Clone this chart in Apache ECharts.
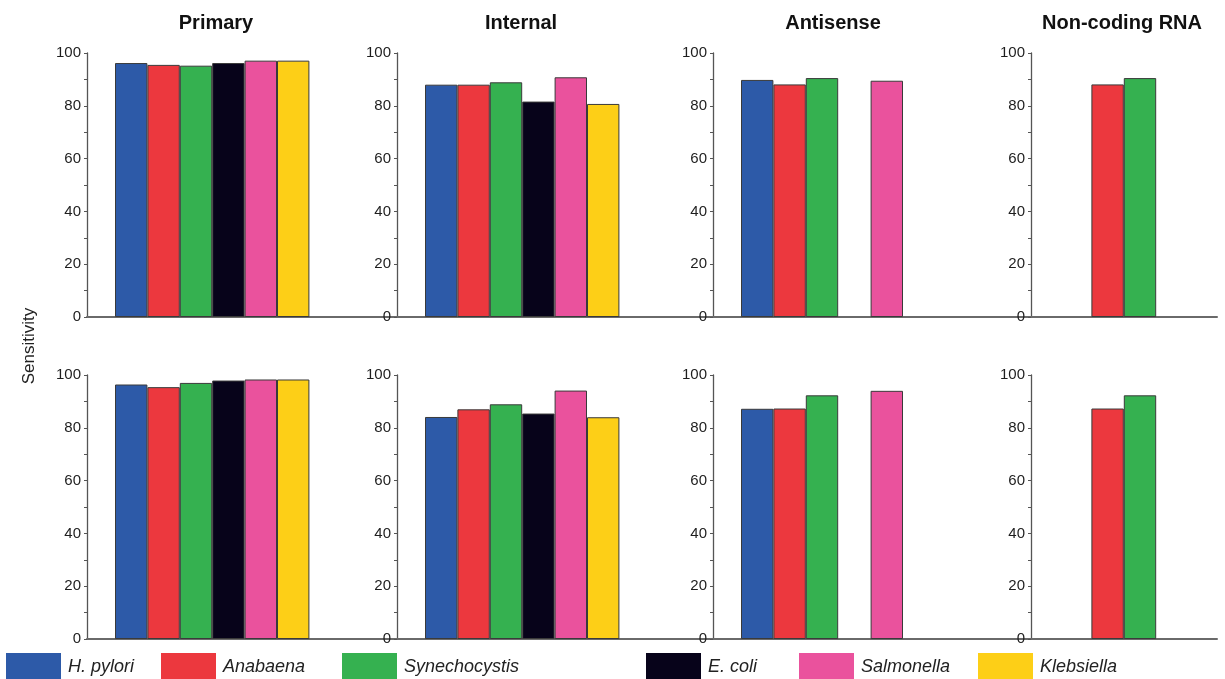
<!DOCTYPE html>
<html>
<head>
<meta charset="utf-8">
<title>Sensitivity by TSS class</title>
<script src="https://cdn.jsdelivr.net/npm/echarts@6/dist/echarts.min.js"></script>
<style>
  html, body { margin: 0; padding: 0; background: #fff; }
  #chart { width: 1225px; height: 679px; }
</style>
</head>
<body>
<div id="chart"></div>
<script>
// Organisms (legend order) and their bar colours
const species = ['H. pylori', 'Anabaena', 'Synechocystis', 'E. coli', 'Salmonella', 'Klebsiella'];
const speciesColors = ['#2d5aa8', '#ec383e', '#35b150', '#07031a', '#ea529d', '#fdcf17'];

// Panel headings (one per column)
const panelTitles = ['Primary', 'Internal', 'Antisense', 'Non-coding RNA'];

// Y axis tick values
const yTicks = [0, 20, 40, 60, 80, 100];

// Sensitivity (%) per organism; null = class not annotated for that organism
// Upper row
const primaryTop    = [96.2, 95.5, 95.2, 96.2, 97.1, 97.1];
const internalTop   = [88.0, 88.0, 88.9, 81.6, 90.8, 80.7];
const antisenseTop  = [89.8, 88.1, 90.5, null, 89.5, null];
const ncrnaTop      = [null, 88.1, 90.5, null, null, null];
// Lower row
const primaryBottom   = [96.4, 95.4, 97.0, 97.9, 98.3, 98.3];
const internalBottom  = [84.1, 87.0, 88.9, 85.4, 94.1, 84.0];
const antisenseBottom = [87.2, 87.3, 92.3, null, 94.0, null];
const ncrnaBottom     = [null, 87.3, 92.3, null, null, null];

const rows = [
  [primaryTop, internalTop, antisenseTop, ncrnaTop],
  [primaryBottom, internalBottom, antisenseBottom, ncrnaBottom]
];

// ---- layout ----
const FONT = '"Liberation Sans", Arial, Helvetica, sans-serif';
const axisLeft = [87, 397, 713, 1031];      // y-axis position of each column
const axisEnd  = [397, 713, 1031, 1217];    // baseline runs on to the next panel
const rowTop = [53, 375];
const plotH = 264;
const slot = 32.4;       // width of one bar
const leadGap = 28;      // space between y axis and first bar

const grids = [], xAxes = [], yAxes = [], series = [];
let idx = 0;
rows.forEach((row, r) => {
  row.forEach((vals, c) => {
    const w = axisEnd[c] - axisLeft[c];
    grids.push({ left: axisLeft[c], top: rowTop[r], width: w, height: plotH });
    const xmin = -0.5 - leadGap / slot;
    xAxes.push({
      type: 'value', gridIndex: idx, min: xmin, max: xmin + w / slot,
      axisLine: { show: true, onZero: false, lineStyle: { color: '#6a6a6a', width: 2 } },
      axisTick: { show: false }, axisLabel: { show: false }, splitLine: { show: false }
    });
    yAxes.push({
      type: 'value', gridIndex: idx,
      min: yTicks[0], max: yTicks[yTicks.length - 1], interval: yTicks[1] - yTicks[0],
      axisLine: { show: true, onZero: false, lineStyle: { color: '#555', width: 1.3 } },
      axisTick: { show: true, length: 3, lineStyle: { color: '#555', width: 1 } },
      minorTick: { show: true, splitNumber: 2, length: 3, lineStyle: { color: '#555', width: 1 } },
      axisLabel: {
        color: '#1e1e1e', fontFamily: FONT, fontSize: 15, margin: 6,
        padding: [0, 0, 3, 0]
      },
      splitLine: { show: false }
    });
    vals.forEach((v, s) => {
      if (v === null) return;
      series.push({
        name: species[s], type: 'bar', xAxisIndex: idx, yAxisIndex: idx,
        barWidth: slot, barGap: '-100%',
        itemStyle: { color: speciesColors[s], borderColor: '#3a3a3a', borderWidth: 1 },
        data: [[s, v]], animation: false
      });
    });
    idx++;
  });
});

// One legend per organism so the entries sit at fixed places along the bottom
const legendLeft = [6, 161, 342, 646, 799, 978];
const legends = species.map((name, i) => ({
  data: [name], left: legendLeft[i], top: 653, padding: 0,
  icon: 'rect', itemWidth: 55, itemHeight: 27,
  itemStyle: { borderWidth: 0 },
  selectedMode: false,
  textStyle: { fontFamily: FONT, fontSize: 18, fontStyle: 'italic', color: '#222', padding: [0, 0, 0, 2] }
}));

// Column headings and the shared y-axis name
const titleCenters = [216, 521, 833, 1122];
const graphics = panelTitles.map((t, i) => ({
  type: 'text', x: titleCenters[i], y: 23,
  style: { text: t, align: 'center', verticalAlign: 'middle', font: 'bold 20px ' + FONT, fill: '#111' }
}));
graphics.push({
  type: 'text', x: 29, y: 346, rotation: Math.PI / 2,
  style: { text: 'Sensitivity', align: 'center', verticalAlign: 'middle', font: '17px ' + FONT, fill: '#222' }
});

const chart = echarts.init(document.getElementById('chart'), null, { renderer: 'canvas' });
chart.setOption({
  backgroundColor: '#fff',
  animation: false,
  grid: grids, xAxis: xAxes, yAxis: yAxes,
  legend: legends,
  graphic: graphics,
  series: series
});
</script>
</body>
</html>
